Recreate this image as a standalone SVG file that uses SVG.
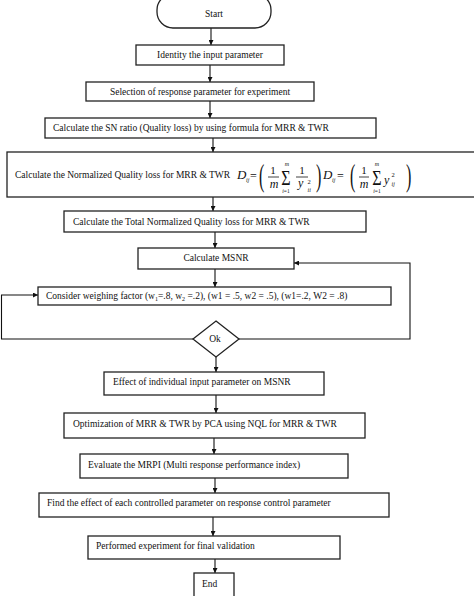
<svg xmlns="http://www.w3.org/2000/svg" width="474" height="596" viewBox="0 0 474 596">
<style>
.box{fill:#fff;stroke:#222;stroke-width:1.3}
.t{font-family:"Liberation Serif","Times New Roman",serif;font-size:9.5px;fill:#111}
.c{text-anchor:middle}
.m{font-family:"Liberation Serif","Times New Roman",serif;fill:#111}
.i{font-style:italic}
.ln{fill:none;stroke:#111;stroke-width:1.1}
</style>
<defs>
<marker id="ah" viewBox="0 0 10 10" refX="10" refY="5" markerWidth="5" markerHeight="5" orient="auto" markerUnits="userSpaceOnUse">
<path d="M0,0 L10,5 L0,10 z" fill="#111"/>
</marker>
</defs>
<rect width="474" height="596" fill="#fff"/>
<g id="connectors">
<line class="ln" x1="211" y1="28" x2="211" y2="45" marker-end="url(#ah)"/>
<line class="ln" x1="210" y1="65" x2="210" y2="82" marker-end="url(#ah)"/>
<line class="ln" x1="210" y1="101" x2="210" y2="118" marker-end="url(#ah)"/>
<line class="ln" x1="213" y1="138" x2="213" y2="152" marker-end="url(#ah)"/>
<line class="ln" x1="213" y1="197" x2="213" y2="211" marker-end="url(#ah)"/>
<line class="ln" x1="215" y1="232" x2="215" y2="248" marker-end="url(#ah)"/>
<line class="ln" x1="215" y1="269" x2="215" y2="287" marker-end="url(#ah)"/>
<line class="ln" x1="216" y1="357" x2="216" y2="372" marker-end="url(#ah)"/>
<line class="ln" x1="216" y1="395" x2="216" y2="413" marker-end="url(#ah)"/>
<line class="ln" x1="214" y1="438" x2="214" y2="454" marker-end="url(#ah)"/>
<line class="ln" x1="215" y1="478" x2="215" y2="493" marker-end="url(#ah)"/>
<line class="ln" x1="213" y1="517" x2="213" y2="536" marker-end="url(#ah)"/>
<line class="ln" x1="215" y1="559" x2="215" y2="573" marker-end="url(#ah)"/>
<polyline class="ln" points="193,339 1.5,339 1.5,295 38,295" marker-end="url(#ah)"/>
<polyline class="ln" points="239,339 410,339 410,263 294,263" marker-end="url(#ah)"/>
</g>
<g id="start">
<rect class="box" x="157" y="-6" width="114" height="34" rx="16"/>
<text class="t c" x="214" y="17">Start</text>
</g>
<g id="identify">
<rect class="box" x="136" y="45" width="148" height="20"/>
<text class="t c" x="210" y="58">Identity the input parameter</text>
</g>
<g id="selection">
<rect class="box" x="86" y="82" width="228" height="19"/>
<text class="t c" x="200" y="95">Selection of response parameter for experiment</text>
</g>
<g id="sn-ratio">
<rect class="box" x="45" y="118" width="331" height="20"/>
<text class="t" x="53" y="131">Calculate the SN ratio (Quality loss) by using formula for MRR &amp; TWR</text>
</g>
<g id="normalized">
<rect class="box" x="7" y="152" width="475" height="45"/>
<text class="t" x="15" y="178">Calculate the Normalized Quality loss for MRR &amp; TWR</text>
<g class="m">
<text class="i" x="237" y="179" font-size="13">D</text>
<text class="i" x="246" y="182" font-size="6">ij</text>
<text x="250" y="180" font-size="12">=</text>
<text x="259" y="186" font-size="32" transform="translate(259,186) scale(0.5,1) translate(-259,-186)">(</text>
<text x="273" y="174" font-size="11" text-anchor="middle">1</text>
<line x1="268" y1="177" x2="279" y2="177" stroke="#111" stroke-width="0.8"/>
<text class="i" x="274" y="187.5" font-size="12" text-anchor="middle">m</text>
<text x="286" y="185" font-size="20" text-anchor="middle" transform="translate(286,185) scale(0.8,1) translate(-286,-185)">Σ</text>
<text class="i" x="287" y="166" font-size="6" text-anchor="middle">m</text>
<text x="286" y="193" font-size="5.5" text-anchor="middle"><tspan class="i">i</tspan>=1</text>
<text x="302" y="174" font-size="11" text-anchor="middle">1</text>
<line x1="296" y1="177" x2="308" y2="177" stroke="#111" stroke-width="0.8"/>
<text class="i" x="298" y="187" font-size="12">y</text>
<text x="307.5" y="184" font-size="6.5">2</text>
<text class="i" x="307.5" y="192" font-size="6">ii</text>
<text x="316" y="186" font-size="32" transform="translate(316,186) scale(0.5,1) translate(-316,-186)">)</text>
<text class="i" x="323" y="179" font-size="13">D</text>
<text class="i" x="332" y="182" font-size="6">ij</text>
<text x="337" y="180" font-size="12">=</text>
<text x="350" y="186" font-size="32" transform="translate(350,186) scale(0.5,1) translate(-350,-186)">(</text>
<text x="364" y="174" font-size="11" text-anchor="middle">1</text>
<line x1="359" y1="177" x2="369" y2="177" stroke="#111" stroke-width="0.8"/>
<text class="i" x="364" y="187.5" font-size="12" text-anchor="middle">m</text>
<text x="377" y="185" font-size="20" text-anchor="middle" transform="translate(377,185) scale(0.8,1) translate(-377,-185)">Σ</text>
<text class="i" x="377" y="166" font-size="6" text-anchor="middle">m</text>
<text x="377" y="193" font-size="5.5" text-anchor="middle"><tspan class="i">i</tspan>=1</text>
<text class="i" x="384" y="184" font-size="12">y</text>
<text x="391.5" y="177" font-size="6.5">2</text>
<text class="i" x="391.5" y="186" font-size="6">ij</text>
<text x="406" y="186" font-size="32" transform="translate(406,186) scale(0.5,1) translate(-406,-186)">)</text>
</g>
</g>
<g id="total">
<rect class="box" x="64" y="211" width="302" height="21"/>
<text class="t" x="73" y="225">Calculate the Total Normalized Quality loss for MRR &amp; TWR</text>
</g>
<g id="msnr">
<rect class="box" x="138" y="248" width="156" height="21"/>
<text class="t c" x="216" y="261">Calculate MSNR</text>
</g>
<g id="weighing">
<rect class="box" x="38" y="287" width="353" height="18"/>
<text class="t" x="46" y="299">Consider weighing factor  (w<tspan font-size="6" dy="2">1</tspan><tspan dy="-2">=.8, w</tspan><tspan font-size="6" dy="2">2</tspan><tspan dy="-2"> =.2), (w1 = .5, w2 = .5), (w1=.2, W2 = .8)</tspan></text>
</g>
<g id="ok">
<polygon class="box" points="216,321 239,339 216,357 193,339"/>
<text class="t c" x="215" y="342">Ok</text>
</g>
<g id="effect">
<rect class="box" x="104" y="372" width="220" height="23"/>
<text class="t" x="113" y="385">Effect of individual input parameter on MSNR</text>
</g>
<g id="pca">
<rect class="box" x="64" y="413" width="301" height="25"/>
<text class="t" x="73" y="427">Optimization of MRR &amp; TWR by PCA using NQL for MRR &amp; TWR</text>
</g>
<g id="mrpi">
<rect class="box" x="80" y="454" width="268" height="24"/>
<text class="t" x="88" y="468">Evaluate the MRPI (Multi response performance index)</text>
</g>
<g id="find-effect">
<rect class="box" x="39" y="493" width="350" height="24"/>
<text class="t" x="47" y="506">Find the effect of each controlled parameter on response control parameter</text>
</g>
<g id="validation">
<rect class="box" x="88" y="536" width="252" height="23"/>
<text class="t" x="96" y="549">Performed experiment for final validation</text>
</g>
<g id="end">
<rect class="box" x="194" y="573" width="40" height="30"/>
<text class="t" x="202" y="587">End</text>
</g>
</svg>
